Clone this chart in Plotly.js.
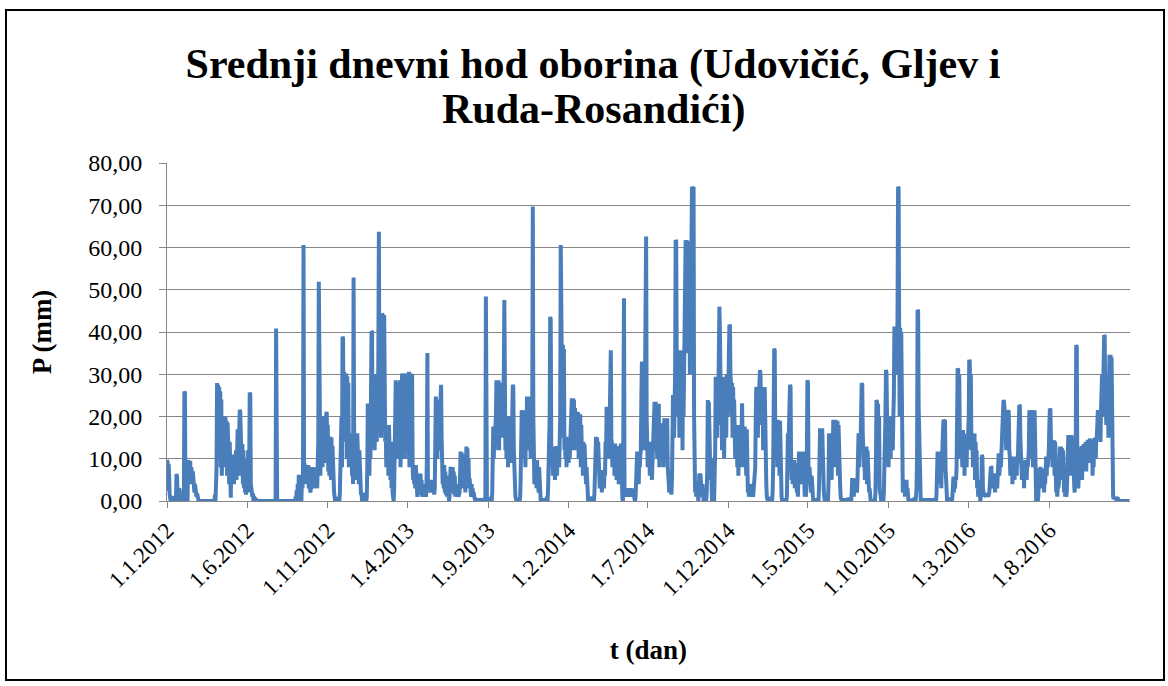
<!DOCTYPE html>
<html>
<head>
<meta charset="utf-8">
<script src="https://cdn.plot.ly/plotly-3.0.1.min.js"></script>
<style>html,body{margin:0;padding:0;background:#fff;}#chart{width:1168px;height:686px;}</style>
</head>
<body>
<div id="chart"></div>
<script>
// Daily mean precipitation (mm). Each run: [day offset from 1.1.2012, consecutive daily values].
// Days not listed lie between runs that start/end with 0 (dry days).
const firstDay = '2012-01-01';
const lastDay = '2016-12-31';

const runs2012 = [
  [0, [9.7, 9.3, 2.4, 8.8, 6.0, 1.5, 0.6, 0, 1.0, 0, 0.5, 0, 0, 1.2, 0, 0.8, 0, 0, 6.4, 5.9, 2.0, 1.0, 0, 3.0, 2.5, 0, 1.0, 0, 0.8, 0, 1.5, 0, 0, 25.9, 25.6, 3.0, 1.5, 0, 5.0, 0, 9.7, 8.5, 9.2, 6.0, 9.5, 4.0, 8.0, 7.0, 5.5, 7.0, 3.0, 6.5, 2.0, 4.0, 1.5, 2.5, 1.0, 1.8, 0.8, 0.6, 0]],
  [90, [0, 1.5, 0, 3.0, 8.0, 27.9, 14.0, 27.5, 10.0, 27.0, 12.0, 26.0, 8.0, 24.0, 6.0, 10.0, 20.0, 19.5, 8.0, 20.0, 12.0, 19.8, 9.0, 19.0, 6.0, 18.5, 7.0, 17.0, 4.0, 14.0, 2.0, 0.8, 10.9, 5.0, 10.5, 8.0, 11.0, 4.0, 9.0, 6.0, 10.0, 12.0, 5.0, 14.0, 17.0, 6.0, 18.0, 8.0, 21.6, 21.0, 9.0, 14.0, 6.0, 13.5, 4.0, 12.0, 3.0, 10.0, 2.0, 6.0, 1.5, 4.0, 8.0, 2.0, 12.0, 3.0, 10.0, 25.7, 25.2, 4.0, 2.0, 1.5, 1.0, 1.8, 0, 1.2, 0, 0.8, 0, 0, 0.5, 0]],
  [205, [0, 0.5, 40.8, 1.2, 0]],
  [243, [0, 1.0, 0, 2.5, 0, 4.0, 0, 6.2, 3.0, 5.5, 2.0, 4.0, 0, 6.0, 3.0, 7.0, 60.6, 8.0, 9.0, 6.0, 8.5, 8.5, 4.0, 8.0, 6.0, 8.5, 3.0, 7.0, 4.0, 2.0, 3.0, 6.0, 8.0, 5.0, 7.5, 3.0, 8.0, 6.0, 7.5, 4.0, 8.0, 5.0, 3.0, 9.0, 14.0, 51.9, 12.0, 18.0, 6.0, 20.0, 12.0, 19.5, 8.0, 20.0, 15.0, 18.0, 10.0, 17.0, 9.0, 20.5, 21.1, 14.0, 18.0, 7.0, 15.0, 6.0, 15.2, 14.0, 5.0, 15.0, 8.0, 13.0, 4.0, 10.0, 2.0, 1.0, 0]],
  [320, [0.8, 0, 0, 0.5, 0, 0, 1.0, 0, 2.0, 6.0, 12.0, 20.0, 8.0, 38.9, 38.5, 15.0, 30.6, 14.0, 30.0, 20.0, 30.2, 10.0, 29.5, 12.0, 28.0, 8.0, 16.0, 14.0, 16.0, 9.0, 15.0, 6.0, 12.0, 4.0, 52.9, 16.0, 6.0, 16.0, 9.0, 15.5, 5.0, 16.0, 8.0, 14.0, 4.0, 12.0, 3.0, 6.0, 1.5, 2.0, 0, 1.0, 0, 2.0, 0, 1.5, 0, 2.0, 0, 1.0]]
];

const runs2013 = [
  [380, [8.0, 23.1, 12.0, 22.0, 6.0, 18.0, 10.0, 24.0, 40.1, 40.0, 15.0, 25.0, 18.0, 20.0, 12.0, 22.0, 30.0, 18.0, 14.0, 25.0, 20.0, 35.0, 63.7, 22.0, 18.0, 30.0, 15.0, 25.0, 44.4, 44.0, 28.0, 20.0, 44.0, 18.0, 14.0, 18.0, 8.0, 18.0, 12.0, 17.5, 6.0, 18.0, 10.0, 16.0, 5.0, 14.0, 3.0, 8.0, 2.0, 1.0, 0, 3.0, 8.0, 20.0, 28.6, 12.0, 28.0, 18.0, 27.0, 10.0, 26.0, 15.0, 28.6, 8.0, 14.0, 20.0, 30.2, 25.5, 12.0, 25.0, 10.0, 22.0, 28.0, 30.2, 14.0, 30.0, 20.0, 26.0, 10.0, 30.6, 8.0, 28.0]],
  [462, [30.2, 26.0, 10.0, 30.0, 8.5, 5.0, 8.5, 4.0, 8.2, 3.0, 8.5, 2.0, 7.0, 1.0, 3.0, 6.5, 2.0, 6.0, 1.5, 6.5, 2.0, 5.0, 1.0, 3.0, 4.0, 1.5, 4.0, 2.0, 3.0, 1.0, 2.0, 10.0, 35.0, 5.0, 4.0, 5.0, 3.0, 5.0, 2.0, 4.5, 2.0, 5.0, 3.0, 4.0, 2.0, 1.5, 3.0, 10.0, 24.7, 18.0, 24.0, 10.0, 22.0, 16.0, 20.0, 12.0, 18.0, 24.0, 27.5, 15.0, 8.5, 4.0, 8.0, 3.0, 8.5, 2.0, 7.0, 1.5, 6.0, 1.0, 4.0, 1.0, 2.0, 0]],
  [536, [1.0, 4.0, 8.1, 3.0, 7.8, 2.0, 8.0, 5.0, 7.0, 1.5, 6.0, 1.0, 4.0, 2.0, 3.4, 1.0, 3.0, 1.0, 2.0, 2.0, 6.0, 11.7, 5.0, 11.5, 3.0, 10.0, 11.0, 4.0, 6.0, 8.0, 2.0, 12.0, 12.9, 6.0, 12.5, 3.0, 10.0, 5.0, 5.4, 2.0, 5.0, 1.0, 4.0, 1.0, 3.0, 1.0, 2.0, 1.0, 0]],
  [585, [0, 0.6, 0, 0, 0.5, 0, 0, 0.4, 0, 0, 0.6, 0, 0, 0.5, 0, 0, 0, 0, 0.5, 1.0, 48.4, 1.0, 0.5, 0]],
  [611, [0, 0.5, 0, 0, 1.0, 0, 2.0, 8.0, 17.6, 10.0, 17.0, 12.0, 17.6, 20.0, 28.6, 20.0, 28.0, 15.0, 28.6, 12.0, 27.0, 18.0, 25.0, 20.0, 28.0, 15.0, 20.0, 18.0, 30.0, 47.6, 20.0, 12.0, 20.0, 10.0, 19.5, 20.0, 8.0, 19.0, 12.0, 20.0, 15.0, 20.0, 9.0, 18.0, 20.0, 27.5, 27.0, 12.0, 5.0, 2.0, 1.0, 0.6, 0, 0.5, 0, 0.8, 0, 0.5, 0, 1.0]],
  [671, [6.0, 14.0, 21.5, 18.0, 21.0, 10.0, 21.5, 15.0, 20.0, 8.0, 18.0, 12.0, 24.7, 20.0, 24.0, 14.0, 24.7, 18.0, 22.0, 10.0, 20.0, 12.0, 25.0, 69.7, 20.0, 9.7, 4.0, 9.7, 6.0, 9.5, 3.0, 9.7, 5.0, 9.0, 2.0, 8.0, 1.0, 0, 0, 0.5, 0, 0, 0.5, 0, 0, 0.6, 0, 0, 0.5, 0, 1.0, 0, 3.0, 8.0, 12.9, 20.0, 43.6, 43.0, 12.9, 8.0, 12.9, 6.0, 12.5, 9.0, 12.9, 5.0, 12.0, 8.0, 13.0, 6.0, 12.9, 10.0, 13.0, 8.0, 14.0, 20.0, 60.6, 30.0, 37.3, 20.0, 37.0, 15.0, 36.0, 12.0, 15.0, 10.0, 15.0, 8.0, 14.5, 12.0, 15.2, 9.0, 14.0, 10.0, 15.0, 18.0, 20.0, 24.3, 18.0, 24.3, 12.0, 24.0, 16.0, 22.0, 14.0, 21.1, 12.0, 21.1, 15.0, 21.0, 10.0, 20.0, 14.0, 20.5, 8.0, 18.0, 12.0, 14.0, 6.0, 14.0, 9.0, 13.5, 5.0, 12.0, 4.0, 8.0, 2.0, 1.0, 0]]
];

const runs2014 = [
  [800, [0.8, 0, 0, 1.0, 0, 0, 0.5, 0, 0, 1.0, 0, 2.0, 6.0, 12.0, 15.2, 8.0, 15.0, 10.0, 14.0, 6.0, 12.0, 3.0, 7.3, 4.0, 7.0, 2.0, 7.3, 5.0, 6.0, 3.0, 7.0, 6.0, 14.0, 10.0, 22.3, 15.0, 22.0, 10.0, 20.0, 12.0, 18.0, 25.0, 35.7, 15.0, 13.6, 8.0, 13.6, 10.0, 13.0, 6.0, 13.6, 9.0, 13.0, 5.0, 12.0, 8.0, 13.0, 4.0, 10.0, 13.0, 6.0, 13.6, 3.0, 1.0, 0.5, 0, 20.0, 48.0, 2.0, 3.0, 1.0, 3.0, 2.0, 3.0, 1.0, 2.5, 1.0, 3.0, 2.0, 3.0, 1.0, 2.5, 1.0, 3.0, 2.0, 1.0, 2.0, 0.5, 0]],
  [889, [1.0, 4.0, 8.0, 11.7, 6.0, 11.5, 4.0, 11.7, 8.0, 11.0, 12.0, 25.0, 33.0, 15.0, 20.0, 12.0, 30.0, 14.0, 25.0, 40.0, 62.6, 20.0, 14.0, 8.0, 14.0, 10.0, 14.0, 6.0, 13.0, 9.0, 14.0, 5.0, 12.0, 8.0, 15.0, 20.0, 23.5, 12.0, 23.5, 15.0, 22.0, 10.0, 20.0, 14.0, 23.0, 8.0, 16.0, 12.0, 18.4, 10.0, 18.0, 14.0, 16.0, 8.0, 18.4, 19.6, 12.0, 19.0, 16.0, 10.0, 19.6, 8.0, 4.0, 6.5, 2.0, 6.5, 3.0, 6.0, 1.5, 5.0, 12.0, 25.1, 22.0, 15.0, 25.0, 30.0, 61.8, 61.5, 35.7, 20.0, 35.7, 25.0, 35.0, 15.0, 35.7, 22.0, 35.0, 18.0, 35.7, 12.0, 30.0, 20.0, 35.0, 25.0, 40.0, 61.8, 50.0, 61.8, 35.0, 55.0, 61.5, 40.0, 61.0, 30.0, 60.0, 45.0, 61.0, 74.4, 74.0, 60.0, 74.4, 20.0, 4.0, 2.0, 4.0, 1.0, 3.0, 1.0, 2.0, 0, 3.0, 6.5, 5.0, 6.5, 2.0, 6.0, 1.0, 4.0, 1.0, 0]],
  [1023, [0, 2.0, 8.0, 23.9, 15.0, 23.5, 8.0, 20.0, 5.0, 10.0, 1.0, 0, 1.0, 0, 0.5, 0, 4.0, 12.0, 29.4, 20.0, 29.0, 15.0, 29.4, 25.0, 35.0, 46.0, 40.0, 29.4, 18.0, 29.0, 12.0, 29.4, 20.0, 28.0, 10.0, 29.0, 22.0, 28.0, 15.0, 30.0, 20.0, 29.4, 25.0, 35.0, 41.7, 41.5, 30.0, 27.9, 20.0, 27.9, 15.0, 27.0, 18.0, 24.0, 18.0, 10.0, 18.0, 12.0, 17.5, 8.0, 18.0, 6.0, 15.0, 10.0, 18.0, 14.0, 8.0, 20.0, 23.1, 14.0, 10.0, 17.6, 8.0, 17.6, 12.0, 16.0, 6.0, 17.0, 4.0, 2.0, 4.0, 1.0, 3.5, 2.0, 4.0, 1.0, 3.0, 2.0, 4.0, 1.0, 3.0, 1.5, 4.0, 8.0, 20.0, 27.0, 25.0, 27.0, 15.0, 26.0, 20.0, 28.0, 31.0, 30.0, 22.0, 27.0, 18.0, 27.0, 12.0, 26.0, 20.0, 27.0, 10.0, 22.0, 4.0, 1.0, 0.5, 0]]
];

const runs2015 = [
  [1141, [1.0, 0, 0.8, 0, 1.0, 0, 0.5, 0, 2.0, 8.0, 20.0, 36.1, 35.5, 15.0, 19.2, 10.0, 19.0, 8.0, 19.2, 12.0, 18.0, 6.0, 19.0, 4.0, 10.0, 1.0, 0, 0.5, 0, 0, 0.5, 0, 0, 0.6, 0, 1.0, 5.0, 16.0, 12.0, 16.0, 20.0, 27.5, 27.0, 9.7, 5.0, 9.7, 4.0, 9.5, 6.0, 9.7, 3.0, 9.0, 5.0, 8.0, 2.0, 4.0, 1.0, 6.0, 11.7, 5.0, 11.5, 8.0, 11.7, 4.0, 11.0, 9.0, 11.7, 3.0, 5.0, 1.0, 4.0, 1.0, 3.0, 12.0, 28.6, 28.0, 8.0, 4.0, 8.0, 3.0, 7.5, 2.0, 6.0, 1.0, 2.0, 0]],
  [1227, [0, 0.5, 0, 0, 0.6, 0, 0, 0.5, 0, 0, 3.0, 10.0, 17.2, 8.0, 17.0, 12.0, 17.2, 6.0, 14.0, 3.0, 1.0, 0, 0.8, 0, 1.0, 0, 0.5, 0, 4.0, 16.0, 8.0, 16.0, 12.0, 15.5, 5.0, 16.0, 10.0, 19.2, 14.0, 19.0, 8.0, 19.2, 12.0, 18.5, 16.0, 19.0, 6.0, 18.0, 10.0, 17.0, 4.0, 1.0, 0]],
  [1280, [0, 0.5, 0, 0, 0, 0.6, 0, 0, 0, 0.5, 0, 0, 0, 0.8, 0, 0, 0, 0.5, 0, 2.0, 5.4, 3.0, 5.0, 1.0, 5.4, 2.0, 4.0, 5.0, 3.0, 2.0, 5.0, 10.0, 16.0, 8.0, 16.0, 12.0, 15.0, 20.0, 27.9, 27.5, 16.0, 12.9, 8.0, 12.9, 5.0, 12.5, 9.0, 12.9, 4.0, 12.0, 6.0, 10.0, 2.0, 3.0, 1.0, 0]],
  [1343, [0, 2.0, 10.0, 23.9, 23.5, 10.0, 23.0, 6.0, 20.0, 3.0, 1.0, 0, 0, 0.5, 0, 1.0, 0, 2.0, 6.0, 12.0, 20.0, 31.0, 30.5, 20.0, 12.0, 20.0, 8.0, 20.0, 15.0, 20.0, 10.0, 19.0, 14.0, 20.0, 12.0, 20.0, 25.0, 41.3, 30.0, 41.3, 35.0, 41.0, 30.0, 45.0, 74.4, 74.0, 41.3, 20.0, 41.0, 30.0, 40.0, 6.0, 5.0, 2.0, 5.0, 3.0, 5.0, 1.0, 4.0, 2.0, 5.0, 1.0, 3.0, 1.0, 0]],
  [1409, [0, 0.5, 0, 0, 0, 0.5, 0, 0, 0, 0.8, 0, 0, 1.0, 3.0, 10.0, 45.2, 45.0, 22.3, 12.0, 4.0, 1.0, 0]],
  [1432, [0, 0.6, 0, 0, 0, 0.5, 0, 0, 0, 0.6, 0, 0, 0, 0.5, 0, 0, 0, 0.6, 0, 0, 0, 0.5, 0, 0, 0, 0.6, 0, 0, 2.0, 6.0, 11.7, 8.0, 11.5, 4.0, 11.7, 7.0, 11.0, 3.0, 10.0, 12.0, 15.0, 19.2, 19.0, 12.0, 19.2, 8.0, 4.0, 1.0, 0]]
];

const runs2016 = [
  [1481, [0, 0.5, 0, 0, 0.8, 0, 0, 0.5, 0, 1.0, 3.0, 5.8, 2.0, 5.5, 3.0, 5.8, 5.0, 8.0, 15.0, 31.4, 31.0, 20.0, 30.0, 16.8, 10.0, 16.8, 12.0, 16.0, 8.0, 16.8, 14.0, 16.0, 6.0, 15.0, 10.0, 12.0, 8.0, 14.0, 12.0, 16.0, 20.0, 33.4, 33.0, 16.0, 30.0, 16.0, 12.0, 16.0, 8.0, 15.5, 10.0, 16.0, 5.0, 14.0, 9.0, 12.0, 3.0, 5.0, 1.0, 2.0, 1.0, 2.0, 0]],
  [1544, [1.0, 4.0, 10.9, 10.5, 3.0, 1.8, 1.0, 1.8, 1.5, 1.8, 1.0, 1.8, 1.2, 1.8, 1.0, 1.5, 2.0, 4.0, 6.0, 8.1, 8.0, 4.0, 6.5, 3.0, 6.5, 5.0, 6.5, 2.0, 6.0, 4.0, 6.5, 3.0, 6.0, 8.0, 11.3, 6.0, 11.0, 11.3, 8.0, 11.0, 12.0, 15.0, 20.0, 23.9, 23.5, 21.5, 15.0, 21.0, 12.0, 21.5, 15.0, 20.0, 21.5, 21.0, 12.0, 10.5, 6.0, 10.5, 8.0, 10.5, 4.0, 10.0, 7.0, 10.5, 5.0, 10.0, 8.0, 10.5, 6.0, 10.0, 9.0, 12.0, 18.0, 22.7, 22.5, 15.0, 10.0, 9.7, 5.0, 9.7, 7.0, 9.5, 3.0, 9.7, 6.0, 9.0, 9.7, 5.0, 9.5, 8.0, 9.7, 12.0, 21.5, 15.0, 21.0, 10.0, 21.5, 18.0, 21.5, 8.0, 21.0, 12.0, 21.5, 4.0, 1.0, 0]],
  [1650, [0.5, 0, 0, 1.0, 3.0, 7.7, 4.0, 8.1, 6.0, 7.7, 3.0, 7.5, 5.0, 7.7, 2.0, 6.0, 4.0, 8.0, 10.5, 6.0, 10.5, 8.0, 10.0, 12.0, 18.0, 21.9, 21.5, 14.4, 10.0, 14.4, 8.0, 14.0, 12.0, 14.4, 6.0, 14.0, 4.2, 2.0, 4.0, 1.0, 4.2, 3.0, 4.0, 8.0, 12.9, 6.0, 12.9, 10.0, 12.5, 5.0, 12.0, 3.0, 2.0, 4.0, 1.0, 3.0, 1.0, 2.0, 6.0, 12.0, 15.6, 8.0, 15.6, 12.0, 15.0, 6.0, 15.6, 10.0, 15.0, 12.0, 14.0, 4.0, 2.0, 6.0, 12.0, 36.9, 36.5, 10.0, 6.0, 3.0, 8.0, 12.5, 6.0, 12.5, 9.0, 13.0, 5.0, 13.0, 10.0, 13.5, 8.0, 13.5, 12.0, 14.0, 7.0, 14.0, 11.0, 14.5, 9.0, 14.5, 13.0, 14.8, 10.0, 14.8, 12.0, 14.8, 6.0, 14.0, 8.0, 14.8, 12.0, 15.0, 10.0, 14.8, 15.0, 18.0, 21.5, 16.0, 21.5, 20.0, 21.0, 14.0, 21.5, 25.0, 30.0, 20.0, 28.0, 35.0, 39.3, 39.0, 25.0, 30.0, 18.0, 28.0, 20.0, 30.0, 15.0, 25.0, 34.6, 30.0, 34.6, 20.0, 34.0, 10.0, 4.0, 1.0, 0.5, 1.0, 0.5, 0.8, 0.3, 0.5, 0.2, 0.4, 0.2, 0.3, 0]],
  [1826, [0]]
];

const tickDates = ['2012-01-01', '2012-06-01', '2012-11-01', '2013-04-01', '2013-09-01', '2014-02-01', '2014-07-01', '2014-12-01', '2015-05-01', '2015-10-01', '2016-03-01', '2016-08-01'];
const tickLabels = ['1.1.2012', '1.6.2012', '1.11.2012', '1.4.2013', '1.9.2013', '1.2.2014', '1.7.2014', '1.12.2014', '1.5.2015', '1.10.2015', '1.3.2016', '1.8.2016'];
const yTicks = [0, 10, 20, 30, 40, 50, 60, 70, 80];

const titleLine1 = 'Srednji dnevni hod oborina (Udovičić, Gljev i';
const titleLine2 = 'Ruda-Rosandići)';
const xTitle = 't (dan)';
const yTitle = 'P (mm)';

// ---- build the trace ----
const base = Date.UTC(2012, 0, 1);
function dayToDate(d) { return new Date(base + d * 86400000).toISOString().slice(0, 10); }
const xs = [], ys = [];
[...runs2012, ...runs2013, ...runs2014, ...runs2015, ...runs2016].forEach(([start, vals]) => {
  vals.forEach((v, i) => { xs.push(dayToDate(start + i)); ys.push(v); });
});

const serif = 'Liberation Serif, Times New Roman, serif';
const grid = '#868686';

const trace = {
  type: 'scatter', mode: 'lines', x: xs, y: ys,
  line: { color: '#4A7EBB', width: 4 },
  hoverinfo: 'skip', showlegend: false
};

const layout = {
  width: 1168, height: 686,
  margin: { l: 167, r: 38, t: 163, b: 185, pad: 0 },
  paper_bgcolor: '#ffffff', plot_bgcolor: '#ffffff',
  separators: ',.',
  font: { family: serif, color: '#000', size: 23 },
  title: {
    text: titleLine1,
    font: { family: serif, size: 42, color: '#000', weight: 700 },
    x: 0.5077, xref: 'container', xanchor: 'center',
    y: 0.907, yref: 'container', yanchor: 'middle'
  },
  annotations: [{
    text: titleLine2, showarrow: false,
    font: { family: serif, size: 42, color: '#000', weight: 700 },
    xref: 'paper', x: 0.4432, xanchor: 'center',
    yref: 'paper', y: 1.157, yanchor: 'middle'
  }],
  xaxis: {
    type: 'date', range: [firstDay, '2017-01-01'],
    tickmode: 'array', tickvals: tickDates, ticktext: tickLabels,
    tickangle: -45, ticks: 'outside', ticklen: 6, tickcolor: grid, tickwidth: 1,
    tickfont: { family: serif, size: 23, color: '#000' },
    showline: true, linecolor: grid, linewidth: 1,
    showgrid: false, zeroline: false, fixedrange: true,
    title: { text: xTitle, font: { family: serif, size: 27, color: '#000', weight: 700 }, standoff: 40 }
  },
  yaxis: {
    range: [0, 80], tickmode: 'array', tickvals: yTicks, tickformat: '.2f',
    ticks: 'outside', ticklen: 7, tickcolor: grid, tickwidth: 1,
    ticklabelstandoff: 12,
    tickfont: { family: serif, size: 24, color: '#000' },
    showline: true, linecolor: grid, linewidth: 1,
    showgrid: true, gridcolor: grid, gridwidth: 1, zeroline: false, fixedrange: true,
    title: { text: yTitle, font: { family: serif, size: 27, color: '#000', weight: 700 }, standoff: 28 }
  },
  shapes: [{
    type: 'rect', xref: 'paper', yref: 'paper', layer: 'above',
    x0: -0.1672, x1: 1.0353, y0: -0.5296, y1: 1.4527,
    line: { color: '#000', width: 2 }, fillcolor: 'rgba(0,0,0,0)'
  }]
};

Plotly.newPlot('chart', [trace], layout, { staticPlot: true, displayModeBar: false });
</script>
</body>
</html>
